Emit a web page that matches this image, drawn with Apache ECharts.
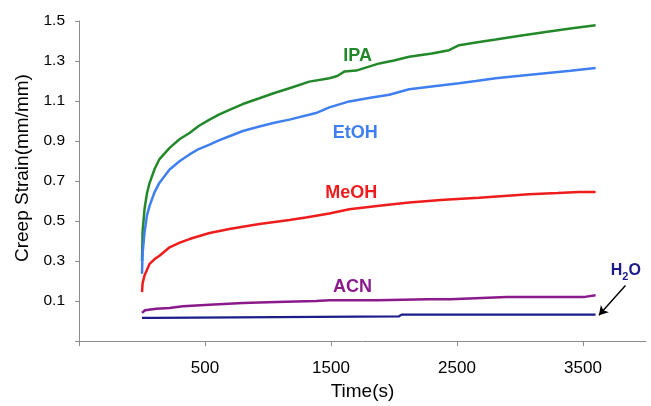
<!DOCTYPE html>
<html>
<head>
<meta charset="utf-8">
<script src="https://cdn.jsdelivr.net/npm/echarts@6/dist/echarts.min.js"></script>
<style>
html,body{margin:0;padding:0;background:#fff;}
#chart{width:651px;height:406px;}
</style>
</head>
<body>
<div id="chart"></div>
<script>
// ---- data ----
var ipaTime    = [0, 5, 20, 40, 60, 100, 139, 219, 300, 377, 450, 536, 610, 694, 800, 932, 1050, 1170, 1328, 1487, 1550, 1605, 1700, 1883, 2000, 2120, 2300, 2437, 2517, 2650, 2807, 3000, 3203, 3400, 3600];
var ipaStrain  = [0.30, 0.45, 0.56, 0.64, 0.69, 0.76, 0.81, 0.866, 0.91, 0.94, 0.975, 1.007, 1.032, 1.056, 1.085, 1.114, 1.140, 1.164, 1.197, 1.214, 1.225, 1.247, 1.252, 1.288, 1.303, 1.321, 1.338, 1.354, 1.379, 1.392, 1.407, 1.426, 1.445, 1.462, 1.479];

var etohTime   = [0, 5, 20, 40, 60, 100, 139, 219, 300, 377, 450, 536, 610, 694, 800, 932, 1050, 1170, 1381, 1487, 1645, 1800, 1962, 2120, 2300, 2517, 2650, 2807, 3000, 3203, 3400, 3600];
var etohStrain = [0.236, 0.34, 0.444, 0.53, 0.576, 0.645, 0.692, 0.758, 0.80, 0.833, 0.860, 0.882, 0.903, 0.924, 0.950, 0.973, 0.991, 1.007, 1.040, 1.068, 1.098, 1.115, 1.131, 1.159, 1.173, 1.189, 1.200, 1.214, 1.226, 1.239, 1.251, 1.265];

var meohTime   = [0, 5, 20, 60, 100, 139, 219, 300, 377, 536, 694, 800, 932, 1170, 1300, 1487, 1645, 1900, 2120, 2400, 2675, 3071, 3300, 3467, 3600];
var meohStrain = [0.145, 0.19, 0.228, 0.286, 0.310, 0.327, 0.369, 0.392, 0.410, 0.440, 0.460, 0.472, 0.485, 0.505, 0.518, 0.538, 0.559, 0.578, 0.593, 0.606, 0.617, 0.634, 0.640, 0.645, 0.645];

var acnTime    = [0, 24, 113, 219, 324, 536, 800, 1064, 1381, 1487, 1867, 2271, 2445, 2895, 3515, 3600];
var acnStrain  = [0.041, 0.054, 0.062, 0.066, 0.074, 0.082, 0.091, 0.096, 0.101, 0.104, 0.104, 0.109, 0.109, 0.121, 0.121, 0.129];

var h2oTime    = [0, 95, 100, 2040, 2060, 3600];
var h2oStrain  = [0.016, 0.016, 0.024, 0.024, 0.032, 0.032];

var xTickLabels = [500, 1500, 2500, 3500];
var yTickLabels = [0.1, 0.3, 0.5, 0.7, 0.9, 1.1, 1.3, 1.5];

// annotation anchors (data coordinates)
var labelIPA  = [1711, 1.325];
var labelEtOH = [1693, 0.94];
var labelMeOH = [1661, 0.642];
var labelACN  = [1671, 0.170];
var labelH2O  = [3840, 0.251];
var arrowFrom = [3837, 0.178];
var arrowTo   = [3626, 0.029];

function zip(t, v){ return t.map(function(x,i){ return [x, v[i]]; }); }

var FONT = '"Liberation Sans", Arial, Helvetica, sans-serif';

function textMark(coord, text, color){
  return {
    symbol: 'circle', symbolSize: 1, silent: true,
    itemStyle: {color: 'rgba(0,0,0,0)'},
    label: {show: true, position: 'inside', formatter: text, color: color,
            fontFamily: FONT, fontWeight: 'bold', fontSize: 18},
    data: [{coord: coord}]
  };
}

var chart = echarts.init(document.getElementById('chart'), null, {renderer: 'canvas'});
var axisColor = '#8c8c8c';

var option = {
  animation: false,
  backgroundColor: '#ffffff',
  grid: {left: 79, right: 5, top: 21, bottom: 63},
  xAxis: {
    type: 'value', min: -500, max: 4000,
    name: 'Time(s)', nameLocation: 'middle', nameGap: 38,
    nameTextStyle: {fontFamily: FONT, fontSize: 19, color: '#000'},
    axisLine: {show: true, onZero: false, lineStyle: {color: axisColor, width: 1}},
    axisTick: {show: true, length: 5, customValues: [-500].concat(xTickLabels), lineStyle: {color: axisColor}},
    axisLabel: {customValues: xTickLabels, fontFamily: FONT, fontSize: 17, color: '#000', margin: 19,
                formatter: function(v){ return String(v); }},
    splitLine: {show: false}
  },
  yAxis: {
    type: 'value', min: -0.1, max: 1.5,
    name: 'Creep Strain(mm/mm)', nameLocation: 'middle', nameGap: 45,
    nameTextStyle: {fontFamily: FONT, fontSize: 19, color: '#000', padding: [0, 0, 0, 26]},
    axisLine: {show: true, onZero: false, lineStyle: {color: axisColor, width: 1}},
    axisTick: {show: true, length: 4, customValues: [-0.1].concat(yTickLabels), lineStyle: {color: axisColor}},
    axisLabel: {customValues: yTickLabels, fontFamily: FONT, fontSize: 15.5, color: '#000', margin: 14,
                formatter: function(v){ return v.toFixed(1); }},
    splitLine: {show: false}
  },
  series: [
    {name: 'IPA', type: 'line', showSymbol: false, data: zip(ipaTime, ipaStrain),
     lineStyle: {color: '#23882a', width: 2.5}, itemStyle: {color: '#23882a'},
     markPoint: textMark(labelIPA, 'IPA', '#23882a')},
    {name: 'EtOH', type: 'line', showSymbol: false, data: zip(etohTime, etohStrain),
     lineStyle: {color: '#3f7ff0', width: 2.5}, itemStyle: {color: '#3f7ff0'},
     markPoint: textMark(labelEtOH, 'EtOH', '#3f7ff0')},
    {name: 'MeOH', type: 'line', showSymbol: false, data: zip(meohTime, meohStrain),
     lineStyle: {color: '#ee1c1c', width: 2.5}, itemStyle: {color: '#ee1c1c'},
     markPoint: textMark(labelMeOH, 'MeOH', '#ee1c1c')},
    {name: 'ACN', type: 'line', showSymbol: false, data: zip(acnTime, acnStrain),
     lineStyle: {color: '#8a1a8c', width: 2.5}, itemStyle: {color: '#8a1a8c'},
     markPoint: textMark(labelACN, 'ACN', '#8a1a8c')},
    {name: 'H2O', type: 'line', showSymbol: false, data: zip(h2oTime, h2oStrain),
     lineStyle: {color: '#1c1c8a', width: 2.2}, itemStyle: {color: '#1c1c8a'},
     markPoint: {
       symbol: 'circle', symbolSize: 1, silent: true,
       itemStyle: {color: 'rgba(0,0,0,0)'},
       label: {show: true, position: 'inside', formatter: '{a|H}{b|2}{a|O}',
               rich: {
                 a: {fontFamily: FONT, fontWeight: 'bold', fontSize: 16, color: '#1c1c8a', lineHeight: 24},
                 b: {fontFamily: FONT, fontWeight: 'bold', fontSize: 11, color: '#1c1c8a', lineHeight: 10, verticalAlign: 'bottom'}
               }},
       data: [{coord: labelH2O}]
     },
     markLine: {
       silent: true, symbol: ['none', 'arrow'], symbolSize: [8, 9],
       lineStyle: {color: '#000', width: 1.4, type: 'solid'},
       label: {show: false},
       data: [[{coord: arrowFrom}, {coord: arrowTo}]]
     }}
  ]
};
chart.setOption(option);
</script>
</body>
</html>
